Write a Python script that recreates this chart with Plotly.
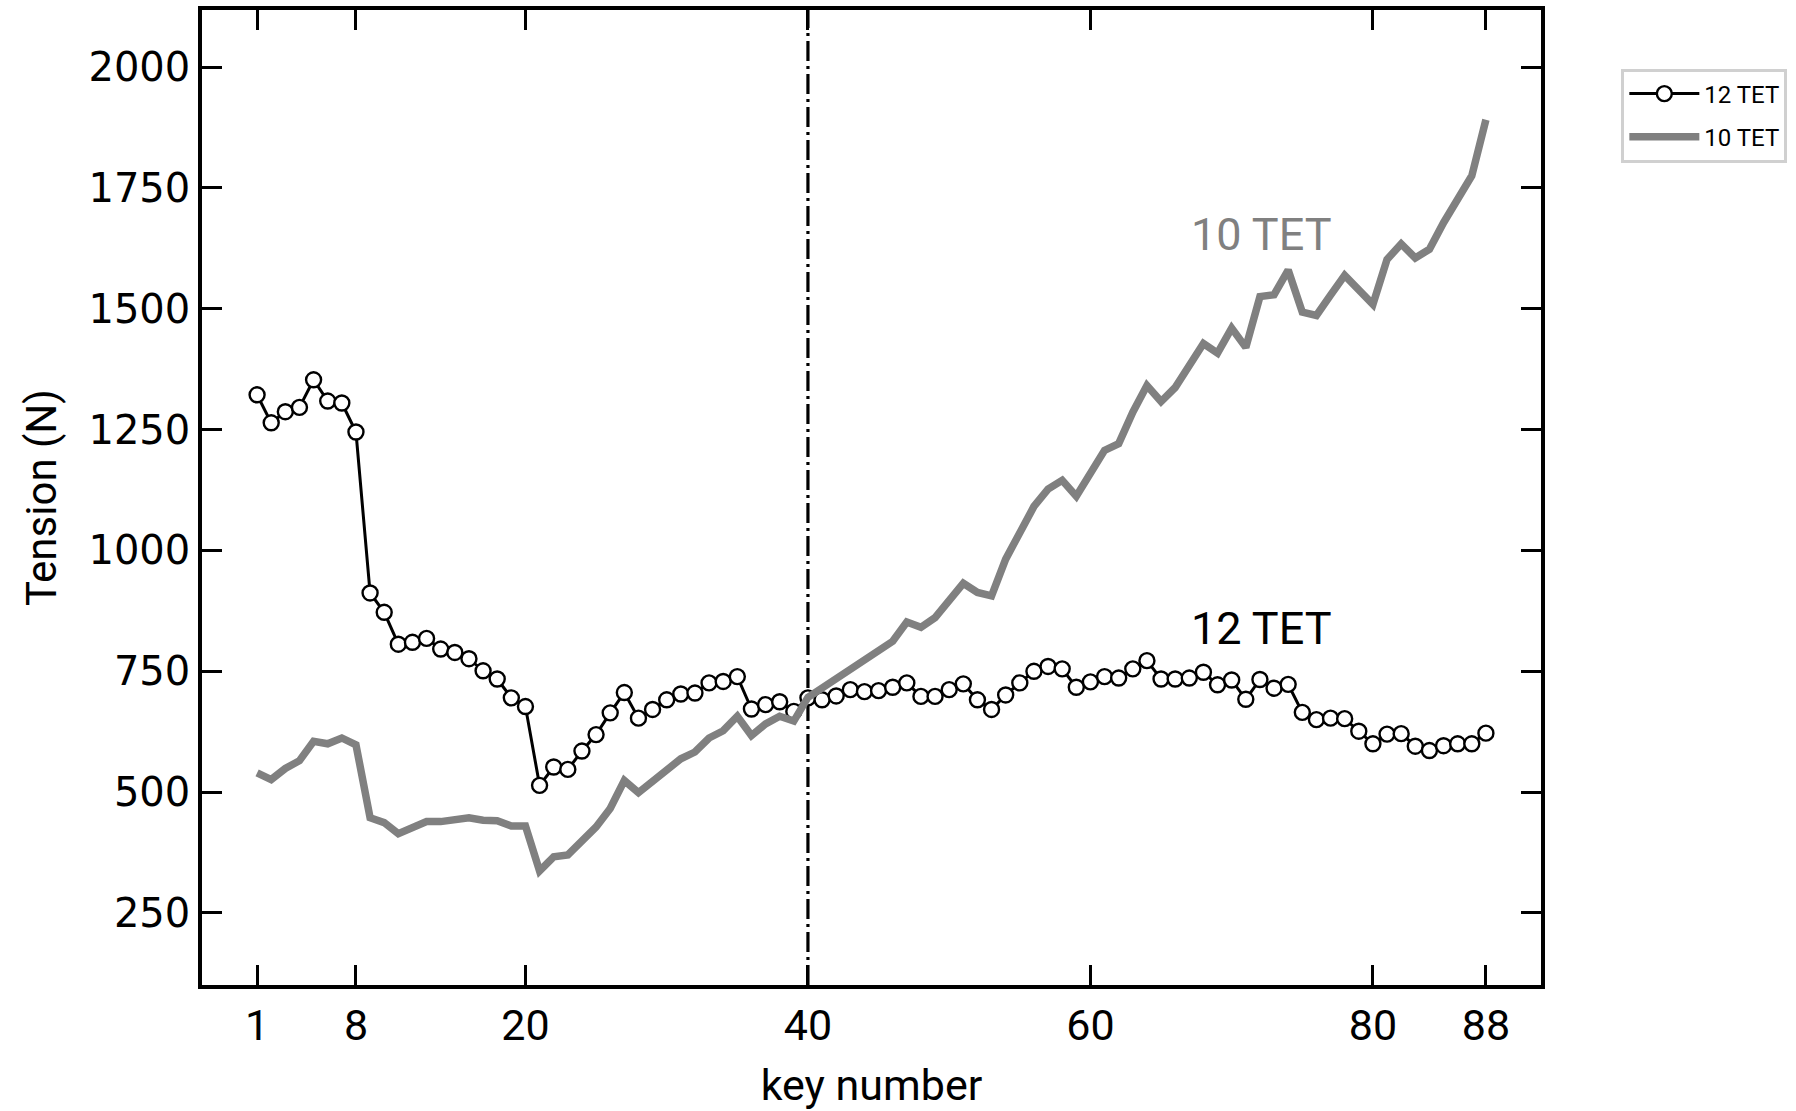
import plotly.graph_objects as go

keys = list(range(1, 89))

tet12 = [1322, 1264, 1287, 1296, 1353, 1309, 1305, 1245, 912, 872,
         806, 810, 818, 796, 789, 776, 751, 734, 695, 677,
         514, 552, 547, 585, 619, 664, 706, 653, 671, 691,
         703, 705, 726, 729, 739, 672, 681, 687, 667, 695,
         691, 699, 712, 708, 710, 717, 726, 698, 698, 712,
         724, 691, 671, 701, 726, 750, 760, 755, 717, 728,
         739, 736, 755, 772, 734, 734, 736, 748, 722, 732,
         692, 733, 715, 723, 665, 650, 653, 652, 626, 600,
         620, 621, 595, 586, 596, 600, 600, 622]

tet10 = [540, 526, 549, 565, 605, 600, 612, 598, 447, 437,
         414, 426, 439, 439, 444, 447, 442, 441, 430, 430,
         337, 366, 370, 399, 428, 466, 524, 499, 523, 547,
         569, 583, 612, 627, 657, 617, 641, 657, 647, 696,
         715, 734, 757, 772, 792, 812, 852, 841, 861, 895,
         932, 913, 906, 982, 1038, 1091, 1127, 1145, 1112, 1159,
         1207, 1221, 1286, 1341, 1308, 1337, 1383, 1428, 1408, 1460,
         1420, 1525, 1529, 1580, 1493, 1486, 1528, 1569, 1539, 1509,
         1602, 1634, 1605, 1623, 1678, 1725, 1775, 1891]

x_ticks = [1, 8, 20, 40, 60, 80, 88]
y_ticks = [250, 500, 750, 1000, 1250, 1500, 1750, 2000]
divider_key = 40

GRAY = "#808080"
FONT = "Roboto"

fig = go.Figure()

fig.add_trace(go.Scatter(
    x=keys, y=tet12, name="12 TET", mode="lines+markers",
    line=dict(color="black", width=3),
    marker=dict(symbol="circle", size=15, color="white",
                line=dict(color="black", width=2.4)),
    legendgroup="a",
))
fig.add_trace(go.Scatter(
    x=keys, y=tet10, name="10 TET", mode="lines",
    line=dict(color=GRAY, width=7.5),
    legendgroup="b",
))

fig.add_shape(type="line", x0=divider_key, x1=divider_key, xref="x",
              y0=0, y1=1, yref="paper",
              line=dict(color="black", width=3.2, dash="20px,5px,3px,5px"),
              layer="below")

fig.add_annotation(x=72.1, y=1653, xref="x", yref="y", text="10 TET",
                   showarrow=False, font=dict(family=FONT, size=45, color=GRAY),
                   xanchor="center", yanchor="middle")
fig.add_annotation(x=72.1, y=839, xref="x", yref="y", text="12 TET",
                   showarrow=False, font=dict(family=FONT, size=45, color="black"),
                   xanchor="center", yanchor="middle")

axis_common = dict(
    showline=True, linecolor="black", linewidth=3.5, mirror="ticks",
    ticks="inside", ticklen=20, tickwidth=3, tickcolor="black",
    showgrid=False, zeroline=False,
)

fig.update_xaxes(
    range=[-2.9, 91.9], tickvals=x_ticks, ticktext=[str(v) for v in x_ticks],
    tickfont=dict(family=FONT, size=43, color="black"),
    title=dict(text="key number", font=dict(family=FONT, size=43, color="black"),
               standoff=22),
    **axis_common,
)
fig.update_yaxes(
    range=[101, 2118], tickvals=y_ticks, ticktext=[str(v) for v in y_ticks],
    tickfont=dict(family="DejaVu Sans", size=40, color="black"),
    title=dict(text="Tension (N)", font=dict(family=FONT, size=42, color="black"),
               standoff=20),
    **axis_common,
)

fig.update_layout(
    width=1796, height=1111,
    margin=dict(l=202, r=255, t=6, b=126),
    plot_bgcolor="white", paper_bgcolor="white",
    legend=dict(
        x=1.06, y=0.94, xanchor="left", yanchor="top",
        bordercolor="#d0d0d0", borderwidth=3, bgcolor="white",
        font=dict(family=FONT, size=24, color="black"),
        tracegroupgap=9, traceorder="grouped", itemwidth=70,
    ),
)

fig.write_html("out.html")
